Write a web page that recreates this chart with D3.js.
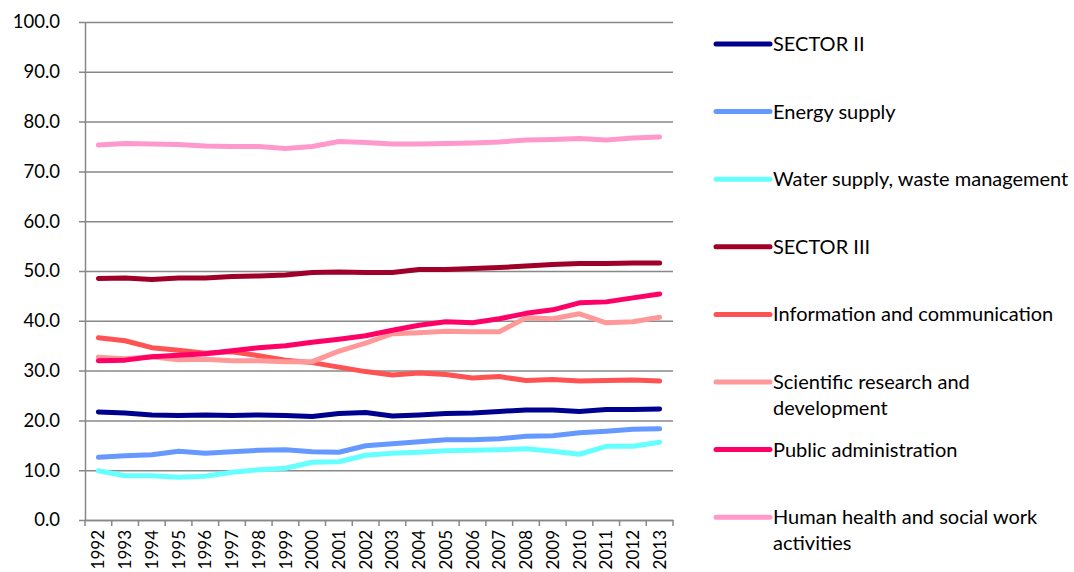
<!DOCTYPE html>
<html>
<head>
<meta charset="utf-8">
<script src="https://cdn.jsdelivr.net/npm/d3@7"></script>
<style>
  body { margin: 0; background: #fff; }
  svg { display: block; font-family: Lato, "Open Sans", sans-serif; }
</style>
</head>
<body>
<div id="chart"></div>
<script>
// years on the x axis
const years = ["1992","1993","1994","1995","1996","1997","1998","1999","2000","2001","2002",
               "2003","2004","2005","2006","2007","2008","2009","2010","2011","2012","2013"];

const yTicks = [0, 10, 20, 30, 40, 50, 60, 70, 80, 90, 100];

const seriesNames = [
  "SECTOR II",
  "Energy supply",
  "Water supply, waste management",
  "SECTOR III",
  "Information and communication",
  "Scientific research and development",
  "Public administration",
  "Human health and social work activities"
];

// legend labels split in lines as in the picture
const legendLines = [
  ["SECTOR II"],
  ["Energy supply"],
  ["Water supply, waste management"],
  ["SECTOR III"],
  ["Information and communication"],
  ["Scientific research and", "development"],
  ["Public administration"],
  ["Human health and social work", "activities"]
];

const seriesColors = ["#00008f", "#6699ff", "#66ffff", "#9e0029", "#ff5252", "#ff9999", "#ff0066", "#ff99cc"];

const sector2 = [21.7, 21.5, 21.1, 21.0, 21.1, 21.0, 21.1, 21.0, 20.8, 21.4, 21.6, 20.9, 21.1, 21.4, 21.5, 21.8, 22.1, 22.1, 21.8, 22.2, 22.2, 22.3];
const energy = [12.6, 12.9, 13.1, 13.8, 13.4, 13.7, 14.0, 14.1, 13.7, 13.6, 14.9, 15.3, 15.7, 16.1, 16.1, 16.3, 16.8, 16.9, 17.5, 17.8, 18.2, 18.3];
const water = [9.9, 8.9, 8.9, 8.6, 8.8, 9.6, 10.1, 10.4, 11.6, 11.7, 13.0, 13.4, 13.6, 13.9, 14.0, 14.1, 14.3, 13.8, 13.2, 14.8, 14.8, 15.6];
const sector3 = [48.5, 48.6, 48.3, 48.6, 48.6, 48.9, 49.0, 49.2, 49.7, 49.8, 49.7, 49.7, 50.3, 50.3, 50.5, 50.7, 51.0, 51.3, 51.5, 51.5, 51.6, 51.6];
const infoComm = [36.6, 36.0, 34.6, 34.1, 33.5, 33.8, 33.0, 32.1, 31.6, 30.7, 29.8, 29.1, 29.5, 29.2, 28.5, 28.8, 28.0, 28.2, 27.9, 28.0, 28.1, 27.9];
const research = [32.7, 32.4, 32.8, 32.2, 32.3, 32.0, 32.0, 31.8, 31.8, 33.9, 35.5, 37.4, 37.6, 37.9, 37.8, 37.8, 40.6, 40.4, 41.4, 39.6, 39.8, 40.7];
const publicAdmin = [32.0, 32.1, 32.8, 33.1, 33.4, 34.0, 34.6, 35.0, 35.7, 36.3, 37.0, 38.1, 39.1, 39.8, 39.6, 40.4, 41.5, 42.2, 43.6, 43.8, 44.6, 45.4];
const health = [75.3, 75.6, 75.5, 75.4, 75.1, 75.0, 75.0, 74.6, 75.0, 76.0, 75.8, 75.5, 75.5, 75.6, 75.7, 75.9, 76.3, 76.4, 76.6, 76.3, 76.7, 76.9];

const seriesValues = [sector2, energy, water, sector3, infoComm, research, publicAdmin, health];

function plotData() {
  const width = 1074;
  const height = 572;
  const margin = { top: 22, right: 401, bottom: 52, left: 85 };
  const plotW = width - margin.left - margin.right;
  const plotH = height - margin.top - margin.bottom;

  const svg = d3.select("#chart").append("svg")
    .attr("width", width)
    .attr("height", height);

  const g = svg.append("g")
    .attr("transform", `translate(${margin.left},${margin.top})`);

  const x = d3.scaleBand().domain(years).range([0, plotW]);
  const y = d3.scaleLinear().domain([0, 100]).range([plotH, 0]);

  // gridlines
  const grid = g.append("g")
    .call(d3.axisLeft(y).tickValues(yTicks).tickFormat("").tickSize(-plotW).tickSizeOuter(0));
  grid.select(".domain").remove();
  grid.selectAll("line").attr("stroke", "#888").attr("stroke-width", 1.5).attr("x1", -6);

  // y axis
  const yAxis = g.append("g")
    .call(d3.axisLeft(y).tickValues(yTicks).tickFormat(d3.format(".1f")).tickSize(0).tickPadding(25));
  yAxis.select(".domain").attr("stroke", "#888").attr("stroke-width", 1.5);
  yAxis.selectAll("text")
    .attr("font-size", 18.5)
    .attr("font-family", "Lato, sans-serif")
    .attr("fill", "#000");

  // x axis
  const xAxis = g.append("g")
    .attr("transform", `translate(0,${plotH})`)
    .call(d3.axisBottom(x).tickSize(0).tickSizeOuter(0));
  xAxis.select(".domain").attr("stroke", "#888").attr("stroke-width", 1.5);
  xAxis.selectAll("text")
    .attr("font-size", 17)
    .attr("font-family", "Lato, sans-serif")
    .attr("fill", "#000")
    .attr("text-anchor", "end")
    .attr("transform", "rotate(-90)")
    .attr("x", -10)
    .attr("y", 0)
    .attr("dy", "0.36em");

  // tick marks between categories
  const edges = years.map(d => x(d)).concat([plotW]);
  g.append("g").selectAll("line")
    .data(edges)
    .enter()
    .append("line")
    .attr("x1", d => d).attr("x2", d => d)
    .attr("y1", plotH).attr("y2", plotH + 6)
    .attr("stroke", "#888").attr("stroke-width", 1.5);

  // lines
  const line = d3.line()
    .x((d, i) => x(years[i]) + x.bandwidth() / 2)
    .y(d => y(d));

  g.append("g").selectAll("path")
    .data(seriesValues)
    .enter()
    .append("path")
    .attr("d", line)
    .attr("fill", "none")
    .attr("stroke", (d, i) => seriesColors[i])
    .attr("stroke-width", 5)
    .attr("stroke-linejoin", "round")
    .attr("stroke-linecap", "round");

  // legend
  const legend = svg.append("g").attr("transform", "translate(716,44)");
  const items = legend.selectAll("g")
    .data(seriesNames)
    .enter()
    .append("g")
    .attr("transform", (d, i) => `translate(0,${i * 67.6})`);

  items.append("line")
    .attr("x1", 0).attr("x2", 54)
    .attr("stroke", (d, i) => seriesColors[i])
    .attr("stroke-width", 5)
    .attr("stroke-linecap", "round");

  items.each(function (d, i) {
    const t = d3.select(this).append("text")
      .attr("x", 57)
      .attr("y", 0)
      .attr("font-size", 20)
      .attr("font-family", "Lato, sans-serif")
      .attr("fill", "#000");
    legendLines[i].forEach((s, k) => {
      t.append("tspan")
        .attr("x", 57)
        .attr("dy", k === 0 ? "0.35em" : 26)
        .text(s);
    });
  });
}

plotData();
</script>
</body>
</html>
